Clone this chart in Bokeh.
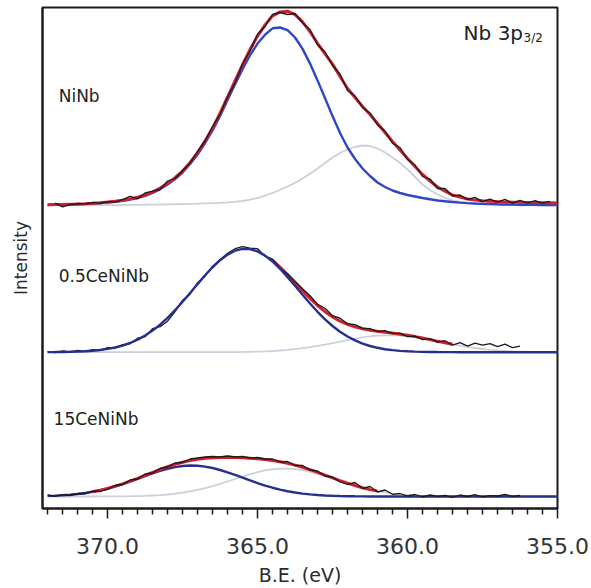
from bokeh.plotting import figure
from bokeh.models import Range1d, FixedTicker, NumeralTickFormatter, Label
from bokeh.embed import file_html
from bokeh.resources import INLINE

# ---------------- data ----------------
# binding-energy grid (eV), shared by the fitted curves and the measured spectra
be = [372.0, 371.75, 371.5, 371.25, 371.0, 370.75, 370.5, 370.25,
      370.0, 369.75, 369.5, 369.25, 369.0, 368.75, 368.5, 368.25,
      368.0, 367.75, 367.5, 367.25, 367.0, 366.75, 366.5, 366.25,
      366.0, 365.75, 365.5, 365.25, 365.0, 364.75, 364.5, 364.25,
      364.0, 363.75, 363.5, 363.25, 363.0, 362.75, 362.5, 362.25,
      362.0, 361.75, 361.5, 361.25, 361.0, 360.75, 360.5, 360.25,
      360.0, 359.75, 359.5, 359.25, 359.0, 358.75, 358.5, 358.25,
      358.0, 357.75, 357.5, 357.25, 357.0, 356.75, 356.5, 356.25,
      356.0, 355.75, 355.5, 355.25, 355.0]

# ---- NiNb (intensity above its own baseline) ----
ninb_main = [0.6, 0.75, 0.9, 1.1, 1.3, 1.6, 2.0, 2.45,
             3.0, 3.8, 4.8, 6.0, 7.5, 9.7, 12.5, 16.4,
             21, 26.5, 33, 41.5, 51, 62.5, 75, 89.5,
             105.4, 121.2, 136.4, 150.3, 161.9, 170.8, 177.2, 178,
             175.3, 168, 156.6, 141.9, 125.1, 107.2, 89.4, 72.5,
             58, 46.5, 37, 29.5, 23, 18.5, 15, 12.5,
             10.5, 9, 7.5, 6.2, 5, 4.2, 3.5, 2.9,
             2.4, 2.0, 1.7, 1.45, 1.2, 1.05, 0.9, 0.8,
             0.7, 0.6, 0.5, 0.45, 0.4]
ninb_second = [0.1, 0.12, 0.15, 0.18, 0.2, 0.25, 0.3, 0.35,
               0.4, 0.45, 0.5, 0.6, 0.7, 0.8, 0.9, 1.0,
               1.1, 1.25, 1.4, 1.6, 1.8, 2.1, 2.4, 2.7,
               3.1, 3.7, 4.5, 5.8, 7.5, 9.8, 12.5, 15.6,
               19, 22.8, 27, 31.8, 37, 42.5, 48, 52.5,
               56, 58.5, 60, 59.5, 57, 53, 48, 42.5,
               36, 28.5, 21, 15.5, 11, 7.7, 5, 3.6,
               2.5, 1.8, 1.2, 0.85, 0.6, 0.45, 0.3, 0.25,
               0.2, 0.15, 0.1, 0.1, 0.1]
ninb_envelope = [0.7, 0.9, 1.05, 1.3, 1.5, 1.85, 2.3, 2.8,
                 3.4, 4.25, 5.3, 6.6, 8.2, 10.5, 13.4, 17.4,
                 22.1, 27.8, 34.4, 43.1, 52.8, 64.6, 77.4, 92.2,
                 108.5, 124.9, 140.9, 156.1, 169.4, 180.6, 189.7, 193.6,
                 194.3, 190.8, 183.6, 173.7, 162.1, 151.7, 141.4, 129,
                 117, 108, 99, 91, 82, 73, 64, 55.5,
                 47, 39, 31, 24.5, 18.5, 14.3, 10.5, 8.5,
                 6.5, 5.6, 4.8, 4.3, 3.9, 3.6, 3.3, 3.15,
                 3.0, 2.9, 2.8, 2.7, 2.6]
ninb_raw = [None, 2.4, -1.4, 0.8, 2.0, 1.4, 3.1, 2.2,
            3.8, 3.3, 5.8, 9.2, 6.7, 12.6, 14.4, 16.0,
            24.5, 27.0, 35.0, 42.5, 54.0, 64.5, 79.0, 91.5,
            108.5, 122.5, 141.5, 154.5, 171.5, 179.0, 191.0, 193.0,
            191.0, 192.0, 182.5, 176.0, 160.5, 153.5, 140.0, 131.5,
            115.0, 109.5, 98.0, 92.5, 80.5, 74.5, 62.0, 58.0,
            46.0, 40.5, 29.0, 26.5, 17.0, 17.0, 9.5, 10.5,
            6.0, 8.1, 3.8, 6.3, 3.4, 6.1, 2.3, 5.2,
            2.5, 4.9, 2.3, 4.2, None]

# ---- 0.5CeNiNb ----
ce05_main = [0.08, 0.14, 0.24, 0.39, 0.62, 0.97, 1.48, 2.23,
             3.27, 4.71, 6.65, 9.2, 12.5, 16.6, 21.6, 27.5,
             34.3, 42.0, 50.4, 59.2, 68.1, 76.9, 84.9, 92.0,
             97.6, 101.5, 103.3, 103.1, 100.8, 96.6, 90.7, 83.4,
             75.1, 66.4, 57.4, 48.7, 40.4, 32.9, 26.2, 20.5,
             15.7, 11.8, 8.6, 6.2, 4.4, 3.0, 2.05, 1.36,
             0.89, 0.56, 0.35, 0.22, 0.13, 0.08, 0.05, 0,
             0, 0, 0, 0, 0, 0, 0, 0,
             0, 0, 0, 0, 0]
ce05_second = [0, 0, 0, 0, 0, 0, 0, 0,
               0, 0, 0, 0, 0, 0, 0, 0,
               0, 0, 0, 0, 0.01, 0.02, 0.04, 0.07,
               0.11, 0.17, 0.27, 0.4, 0.6, 0.86, 1.22, 1.7,
               2.3, 3.05, 3.97, 5.04, 6.27, 7.64, 9.1, 10.6,
               12.1, 13.5, 14.8, 15.8, 16.5, 16.9, 17.0, 16.6,
               16.0, 15.0, 13.8, 12.4, 10.9, 9.4, 7.9, 6.5,
               5.3, 4.2, 3.2, 2.4, 1.8, 1.3, 0.93, 0.64,
               0.44, 0.29, 0.19, 0.12, 0.07]
ce05_envelope = [0.08, 0.14, 0.24, 0.39, 0.62, 0.97, 1.48, 2.23,
                 3.27, 4.71, 6.65, 9.2, 12.5, 16.6, 21.6, 27.5,
                 34.3, 42.0, 50.4, 59.2, 68.1, 76.9, 84.9, 92.1,
                 97.7, 101.7, 103.6, 103.5, 101.4, 97.5, 91.9, 85.1,
                 77.4, 69.5, 61.4, 53.7, 46.7, 40.5, 35.3, 31.1,
                 27.8, 25.3, 23.4, 22.0, 20.9, 19.9, 19.1, 18.0,
                 16.9, 15.6, 14.2, 12.6, 11.0, 9.5, 8.0, 6.6,
                 5.3, 4.2, 3.2, 2.4, 1.8, 1.3, 0.9, 0.6,
                 0.4, 0.3, 0.2, 0.1, 0.1]
ce05_raw = [0.5, -0.5, 1.2, 0.2, 1.8, 0.8, 2.5, 1.8,
            4.5, 4.0, 7.5, 8.5, 14.0, 15.5, 23.5, 25.5,
            31.0, 40.5, 52.0, 58.0, 69.5, 76.0, 86.0, 92.5,
            99.0, 103.5, 105.5, 104.0, 103.5, 96.0, 93.0, 84.0,
            78.5, 71.0, 63.5, 56.5, 48.0, 44.0, 36.5, 34.0,
            28.5, 27.5, 24.0, 23.5, 20.5, 21.5, 18.5, 19.0,
            15.5, 16.0, 12.5, 13.5, 10.0, 11.5, 7.0, 9.5,
            6.0, 9.0, 7.0, 8.5, 5.5, 8.0, 4.5, 6.0,
            None, None, None, None, None]

# ---- 15CeNiNb ----
ce15_main = [0.58, 0.86, 1.26, 1.81, 2.55, 3.5, 4.71, 6.2,
             7.99, 10.07, 12.41, 14.98, 17.7, 20.46, 23.1, 25.62,
             27.75, 29.42, 30.5, 31.0, 30.8, 29.93, 28.5, 26.52,
             24.2, 21.55, 18.8, 16.06, 13.4, 10.97, 8.78, 6.88,
             5.27, 3.96, 2.9, 2.08, 1.47, 1.01, 0.68, 0.45,
             0.29, 0.18, 0.11, 0.07, 0.04, 0, 0, 0,
             0, 0, 0, 0, 0, 0, 0, 0,
             0, 0, 0, 0, 0, 0, 0, 0,
             0, 0, 0, 0, 0]
ce15_second = [0, 0, 0, 0, 0.01, 0.01, 0.02, 0.04,
               0.07, 0.11, 0.18, 0.29, 0.44, 0.66, 0.98, 1.42,
               2.02, 2.79, 3.79, 5.03, 6.54, 8.31, 10.34, 12.58,
               14.99, 17.48, 19.95, 22.27, 24.34, 26.03, 27.24, 27.89,
               27.95, 27.41, 26.31, 24.71, 22.71, 20.43, 17.98, 15.49,
               13.06, 10.77, 8.69, 6.87, 5.31, 4.02, 2.97, 2.16,
               1.53, 1.06, 0.72, 0.48, 0.31, 0.2, 0.12, 0.08,
               0.05, 0, 0, 0, 0, 0, 0, 0,
               0, 0, 0, 0, 0]
ce15_envelope = [0.6, 0.9, 1.3, 1.8, 2.6, 3.5, 4.7, 6.2,
                 8.1, 10.2, 12.6, 15.3, 18.1, 21.1, 24.1, 27.0,
                 29.8, 32.2, 34.3, 36.0, 37.3, 38.2, 38.8, 39.1,
                 39.2, 39.0, 38.8, 38.3, 37.7, 37.0, 36.0, 34.8,
                 33.2, 31.4, 29.2, 26.8, 24.2, 21.4, 18.7, 15.9,
                 13.4, 11.0, 8.8, 6.9, 5.4, 4.0, 3.0, 2.2,
                 1.5, 1.1, 0.7, 0.5, 0.3, 0.2, 0.1, 0.1,
                 0.05, 0, 0, 0, 0, 0, 0, 0,
                 0, 0, 0, 0, 0]
ce15_raw = [1.5, 0.2, 1.8, 1.0, 3.0, 2.6, 5.5, 5.0,
            7.2, 11.0, 12.0, 16.5, 17.5, 22.5, 23.5, 28.0,
            29.5, 33.5, 34.0, 37.5, 38.5, 39.5, 40.0, 39.5,
            40.5, 39.5, 40.0, 38.5, 39.0, 37.5, 37.5, 34.5,
            35.0, 31.0, 31.0, 26.5, 25.5, 20.5, 19.5, 14.5,
            12.0, 14.0, 8.0, 10.0, 4.5, 6.5, 2.2, 3.0,
            0.5, 2.0, -0.5, 1.5, 0.2, 1.2, -0.8, 1.5,
            0.0, 1.8, -0.5, 0.8, 0.5, 2.0, 0.2, 1.0,
            None, None, None, None, None]

samples = ["NiNb", "0.5CeNiNb", "15CeNiNb"]
baselines = [303.0, 156.3, 12.0]          # vertical stacking offsets
envelope_ranges = [(372.0, 355.0), (364.5, 358.5), (370.5, 361.0)]
label_pos = [(371.63, 413.0), (371.63, 233.0), (371.8, 90.0)]

major_ticks = [370.0, 365.0, 360.0, 355.0]
minor_ticks = [372.0, 371.5, 371.0, 370.5, 369.5, 369.0, 368.5, 368.0, 367.5,
               367.0, 366.5, 366.0, 365.5, 364.5, 364.0, 363.5, 363.0, 362.5,
               362.0, 361.5, 361.0, 360.5, 359.5, 359.0, 358.5, 358.0, 357.5,
               357.0, 356.5, 356.0, 355.5]

# ---------------- styling ----------------
FONT = "DejaVu Sans"
RED = "#cf1f2b"
BLUES = ["#2f46c6", "#252f92", "#27308a"]
GRAY = "#cbd0dc"
BLACK = "#1b1b1b"

p = figure(width=591, height=588,
           x_range=Range1d(372.17, 355.0), y_range=Range1d(0, 501),
           output_backend="svg", toolbar_location=None,
           min_border_left=42, min_border_right=34, min_border_top=7,
           min_border_bottom=80)
p.xgrid.visible = False
p.ygrid.visible = False
p.outline_line_color = BLACK
p.outline_line_width = 2
p.background_fill_color = "white"
p.border_fill_color = "white"

xa = p.xaxis[0]
xa.ticker = FixedTicker(ticks=major_ticks, minor_ticks=minor_ticks)
xa.formatter = NumeralTickFormatter(format="0.0")
xa.major_tick_out = 10
xa.major_tick_in = 0
xa.minor_tick_out = 6
xa.minor_tick_in = 0
xa.major_tick_line_width = 1.5
xa.minor_tick_line_width = 1.5
xa.major_tick_line_color = BLACK
xa.minor_tick_line_color = BLACK
xa.axis_line_color = BLACK
xa.axis_line_width = 2
xa.major_label_text_font = FONT
xa.major_label_text_font_size = "22px"
xa.major_label_text_color = "#333333"
xa.major_label_standoff = 19
xa.axis_label = "B.E. (eV)"
xa.axis_label_text_font = FONT
xa.axis_label_text_font_size = "19px"
xa.axis_label_text_font_style = "normal"
xa.axis_label_text_color = "#2a2a2a"
xa.axis_label_standoff = 7

ya = p.yaxis[0]
ya.ticker = FixedTicker(ticks=[])
ya.major_tick_out = 0
ya.major_tick_in = 0
ya.minor_tick_out = 0
ya.minor_tick_in = 0
ya.axis_line_color = BLACK
ya.axis_line_width = 2
ya.axis_label = "Intensity"
ya.axis_label_text_font = FONT
ya.axis_label_text_font_size = "17px"
ya.axis_label_text_font_style = "normal"
ya.axis_label_text_color = "#2a2a2a"
ya.axis_label_standoff = 12


def xy(xs, ys, base, rng=None):
    """pairs (x, y + base), dropping missing values and points outside rng"""
    out_x, out_y = [], []
    for x, y in zip(xs, ys):
        if y is None:
            continue
        if rng is not None and not (rng[1] <= x <= rng[0]):
            continue
        out_x.append(x)
        out_y.append(y + base)
    return out_x, out_y


curves = [
    (ninb_main, ninb_second, ninb_envelope, ninb_raw),
    (ce05_main, ce05_second, ce05_envelope, ce05_raw),
    (ce15_main, ce15_second, ce15_envelope, ce15_raw),
]

for i, (main, second, env, raw) in enumerate(curves):
    base = baselines[i]
    gx, gy = xy(be, second, base)
    mx, my = xy(be, main, base)
    ex, ey = xy(be, env, base, envelope_ranges[i])
    rx, ry = xy(be, raw, base)
    p.line(gx, gy, line_color=GRAY, line_width=1.8)
    if i == 1:
        p.line(ex, ey, line_color=RED, line_width=3)
        p.line(rx, ry, line_color=BLACK, line_width=1.3)
        p.line(mx, my, line_color=BLUES[i], line_width=2.4)
    else:
        p.line(mx, my, line_color=BLUES[i], line_width=2.4)
        p.line(ex, ey, line_color=RED, line_width=3)
        p.line(rx, ry, line_color=BLACK, line_width=1.3)

    lx, ly = label_pos[i]
    p.add_layout(Label(x=lx, y=ly, text=samples[i], text_font=FONT,
                       text_font_size="17px", text_color="#222222",
                       text_baseline="middle", text_align="left"))

p.add_layout(Label(x=358.13, y=476.0, text="Nb 3p", text_font=FONT,
                   text_font_size="20px", text_color="#222222",
                   text_baseline="middle", text_align="left"))
p.add_layout(Label(x=356.13, y=471.0, text="3/2", text_font=FONT,
                   text_font_size="12px", text_color="#222222",
                   text_baseline="middle", text_align="left"))

open("out.html", "w").write(file_html(p, INLINE))
